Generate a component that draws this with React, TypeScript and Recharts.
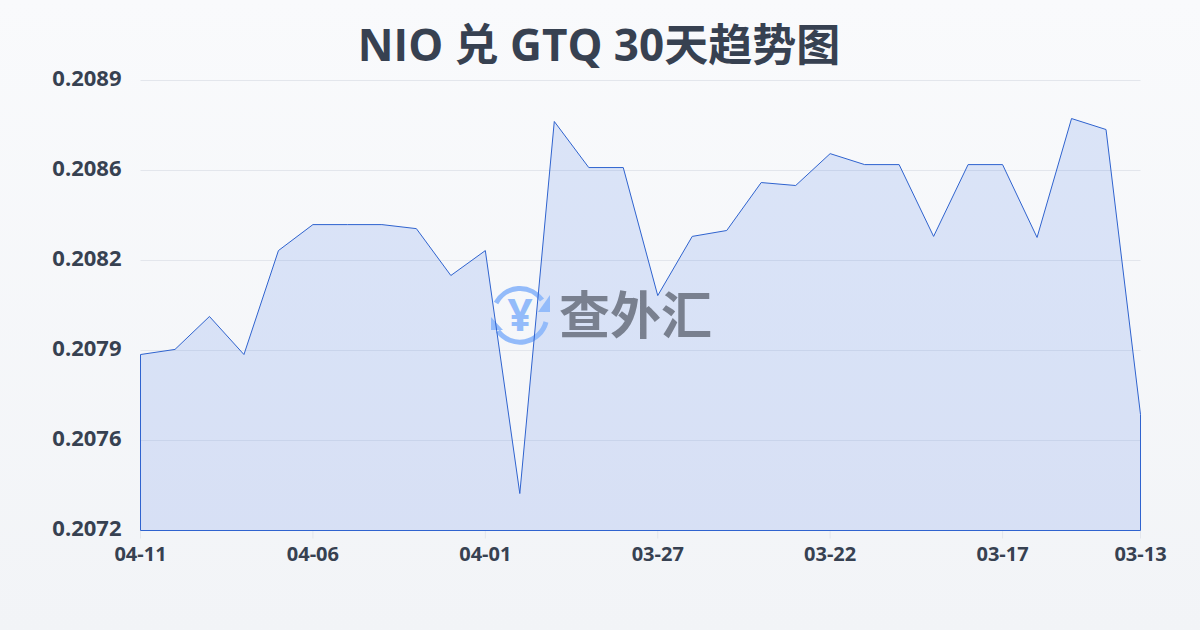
import React from 'react';
import {
  AreaChart,
  Area,
  XAxis,
  YAxis,
  CartesianGrid,
  ReferenceLine
} from 'recharts';

const dates = [
  '04-11', '04-10', '04-09', '04-08', '04-07', '04-06', '04-05', '04-04', '04-03', '04-02',
  '04-01', '03-31', '03-30', '03-29', '03-28', '03-27', '03-26', '03-25', '03-24', '03-23',
  '03-22', '03-21', '03-20', '03-19', '03-18', '03-17', '03-16', '03-15', '03-14', '03-13'
];

const rates = [
  0.207897, 0.207916, 0.208039, 0.207897, 0.208285, 0.208382, 0.208382, 0.208382, 0.208367, 0.208192,
  0.208285, 0.207378, 0.208767, 0.208595, 0.208595, 0.208117, 0.208338, 0.20836, 0.208539, 0.208528,
  0.208647, 0.208606, 0.208606, 0.208338, 0.208606, 0.208606, 0.208334, 0.208778, 0.208737, 0.207673
];

const xTicks = ['04-11', '04-06', '04-01', '03-27', '03-22', '03-17', '03-13'];
const yTicks = [0.20724, 0.207576, 0.207912, 0.208248, 0.208584, 0.20892];

const chartData = dates.map((date, i) => ({ date, rate: rates[i] }));

const FONT = '"Open Sans", "Noto Sans CJK SC", sans-serif';
const LINE = '#2f63cf';
const TEXT = '#374151';
const WM_BLUE = '#93bbfa';
const yMin = yTicks[0];
const yMax = yTicks[yTicks.length - 1];

const Watermark = () => (
  <svg width={1200} height={630} style={{ position: 'absolute', left: 0, top: 0 }}>
    <g fill="none" stroke={WM_BLUE} strokeWidth={5}>
      <path d="M 496 303 A 27 27 0 0 1 542 300" />
      <path d="M 546 322 A 27 27 0 0 1 498 331" />
    </g>
    <polygon points="538,312 550,295 550,312" fill={WM_BLUE} />
    <polygon points="491,317 503,330 491,330" fill={WM_BLUE} />
    <text x={520} y={331} textAnchor="middle" fontSize={44} fontWeight={700} fontFamily={FONT} fill={WM_BLUE}>¥</text>
    <text x={635.5} y={334} textAnchor="middle" fontSize={51} fontWeight={700} fontFamily={FONT} fill="#79808f">查外汇</text>
  </svg>
);

// the watermark sits between the fill and the outline, so the chart is drawn in two layers
const ChartLayer: React.FC<{ outline: boolean }> = ({ outline }) => (
  <div style={{ position: 'absolute', left: 0, top: 0 }}>
    <AreaChart
      width={1200}
      height={630}
      data={chartData}
      margin={{ top: 80.5, right: 59.5, bottom: 69.5, left: 0.5 }}
    >
      {!outline && <CartesianGrid stroke="#e3e6ec" strokeWidth={1} vertical={false} />}
      <XAxis
        dataKey="date"
        ticks={xTicks}
        interval={0}
        axisLine={false}
        tickLine={outline ? false : { stroke: '#e3e6ec' }}
        tickSize={8}
        tickMargin={8}
        tick={outline ? false : { fontSize: 20, fontWeight: 700, fill: TEXT, fontFamily: FONT }}
      />
      <YAxis
        width={140}
        domain={[yMin, yMax]}
        ticks={yTicks}
        interval={0}
        axisLine={false}
        tickLine={false}
        tickMargin={19}
        tickSize={0}
        tickFormatter={(v: number) => v.toFixed(4)}
        tick={outline ? false : { fontSize: 22, fontWeight: 700, fill: TEXT, fontFamily: FONT, dy: -2 }}
      />
      <Area
        type="linear"
        dataKey="rate"
        baseValue={yMin}
        stroke={outline ? LINE : 'none'}
        strokeWidth={1}
        fill={outline ? 'none' : '#4d7fe8'}
        fillOpacity={0.17}
        dot={false}
        activeDot={false}
        isAnimationActive={false}
      />
      {outline && (
        <ReferenceLine
          ifOverflow="visible"
          stroke={LINE}
          strokeWidth={1}
          segment={[
            { x: dates[0], y: yMin },
            { x: dates[0], y: rates[0] }
          ]}
        />
      )}
      {outline && (
        <ReferenceLine
          ifOverflow="visible"
          stroke={LINE}
          strokeWidth={1}
          segment={[
            { x: dates[dates.length - 1], y: yMin },
            { x: dates[dates.length - 1], y: rates[rates.length - 1] }
          ]}
        />
      )}
      {outline && <ReferenceLine y={yMin} stroke={LINE} strokeWidth={1} />}
    </AreaChart>
  </div>
);

const App: React.FC = () => {
  return (
    <div
      style={{
        position: 'absolute',
        left: 0,
        top: 0,
        width: 1200,
        height: 630,
        overflow: 'hidden',
        background: 'linear-gradient(180deg, #f9fafc 0%, #f2f4f7 100%)'
      }}
    >
      <div
        style={{
          position: 'absolute',
          left: 0,
          top: 12,
          width: 1198,
          textAlign: 'center',
          fontFamily: FONT,
          fontSize: 44,
          fontWeight: 700,
          lineHeight: '64px',
          color: TEXT
        }}
      >
        NIO 兑 GTQ 30天趋势图
      </div>
      <ChartLayer outline={false} />
      <Watermark />
      <ChartLayer outline={true} />
    </div>
  );
};

export default App;
